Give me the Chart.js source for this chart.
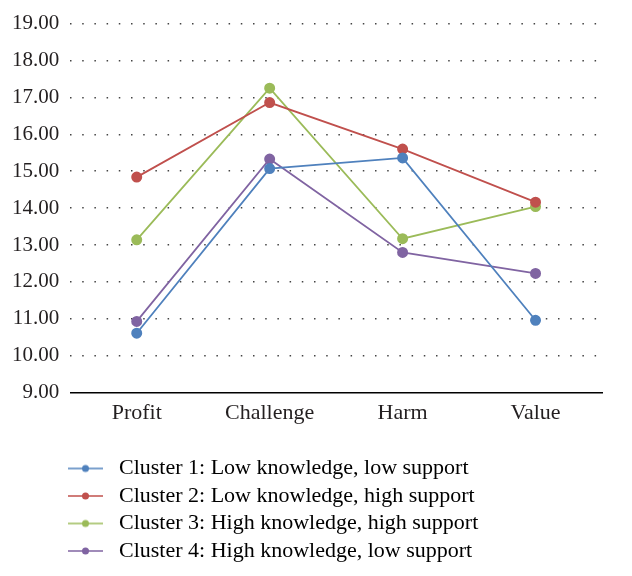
<!DOCTYPE html>
<html lang="en">
  <head>
    <meta charset="UTF-8" />
    <title>Clusters</title>
    <script src="https://cdn.jsdelivr.net/npm/chart.js"></script>
    <style>
      body {
        margin: 0;
        background: #fff;
      }
      #wrap {
        width: 632px;
        height: 576px;
      }
    </style>
  </head>
  <body>
    <div id="wrap"><canvas id="myChart"></canvas></div>

    <script>
      const categories = ["Profit", "Challenge", "Harm", "Value"];
      const seriesNames = [
        "Cluster 1: Low knowledge, low support",
        "Cluster 2: Low knowledge, high support",
        "Cluster 3: High knowledge, high support",
        "Cluster 4: High knowledge, low support",
      ];
      const cluster1 = [10.61, 15.07, 15.36, 10.96];
      const cluster2 = [14.84, 16.86, 15.6, 14.16];
      const cluster3 = [13.14, 17.25, 13.17, 14.04];
      const cluster4 = [10.93, 15.33, 12.8, 12.23];
      const colors = ["#4f81bd", "#c0504d", "#9bbb59", "#8064a2"];

      const font = "'Liberation Serif', 'DejaVu Serif', serif";

      // little line+dot marker for the legend
      function legendMark(color) {
        const c = document.createElement("canvas");
        c.width = 40;
        c.height = 10;
        const g = c.getContext("2d");
        g.strokeStyle = color;
        g.lineWidth = 1.5;
        g.beginPath();
        g.moveTo(0, 5);
        g.lineTo(35, 5);
        g.stroke();
        g.fillStyle = color;
        g.beginPath();
        g.arc(17.5, 5, 3.5, 0, Math.PI * 2);
        g.fill();
        return c;
      }

      const allData = [cluster1, cluster2, cluster3, cluster4];
      const datasets = allData.map((d, i) => ({
        label: seriesNames[i],
        data: d,
        borderColor: colors[i],
        backgroundColor: colors[i],
        borderWidth: 1.8,
        pointRadius: 4.6,
        pointHoverRadius: 4.6,
        pointStyle: "circle",
        tension: 0,
      }));

      // push the legend rows in under the plot, like the original
      const shiftLegend = {
        id: "shiftLegend",
        afterLayout(chart) {
          chart.legend.left = 62.5;
        },
      };

      const ctx = document.getElementById("myChart");
      new Chart(ctx, {
        type: "line",
        data: { labels: categories, datasets: datasets },
        plugins: [shiftLegend],
        options: {
          responsive: true,
          maintainAspectRatio: false,
          animation: false,
          layout: { padding: { top: 15, right: 30, left: 1, bottom: 4 } },
          plugins: {
            tooltip: { enabled: false },
            legend: {
              position: "bottom",
              align: "start",
              labels: {
                usePointStyle: true,
                pointStyleWidth: 40,
                padding: 5.5,
                color: "#231f20",
                font: { family: font, size: 22 },
                generateLabels(chart) {
                  return chart.data.datasets.map((ds, i) => ({
                    text: ds.label,
                    pointStyle: legendMark(colors[i]),
                    fillStyle: colors[i],
                    strokeStyle: colors[i],
                    lineWidth: 0,
                    datasetIndex: i,
                  }));
                },
              },
            },
          },
          scales: {
            x: {
              offset: true,
              grid: { display: false, drawTicks: false },
              border: { display: true, color: "#000", width: 1.5 },
              ticks: {
                color: "#231f20",
                padding: 7,
                font: { family: font, size: 22 },
              },
              afterFit: (scale) => {
                scale.height += 19;
              },
            },
            y: {
              min: 9,
              max: 19,
              ticks: {
                stepSize: 1,
                color: "#231f20",
                padding: 11,
                font: { family: font, size: 21 },
                callback: (v) => v.toFixed(2),
              },
              border: { display: false, dash: [1.5, 10.7] },
              grid: {
                color: (c) => (c.tick.value === 9 ? "rgba(0,0,0,0)" : "#444"),
                lineWidth: 1.5,
                drawTicks: false,
              },
            },
          },
        },
      });
    </script>
  </body>
</html>
